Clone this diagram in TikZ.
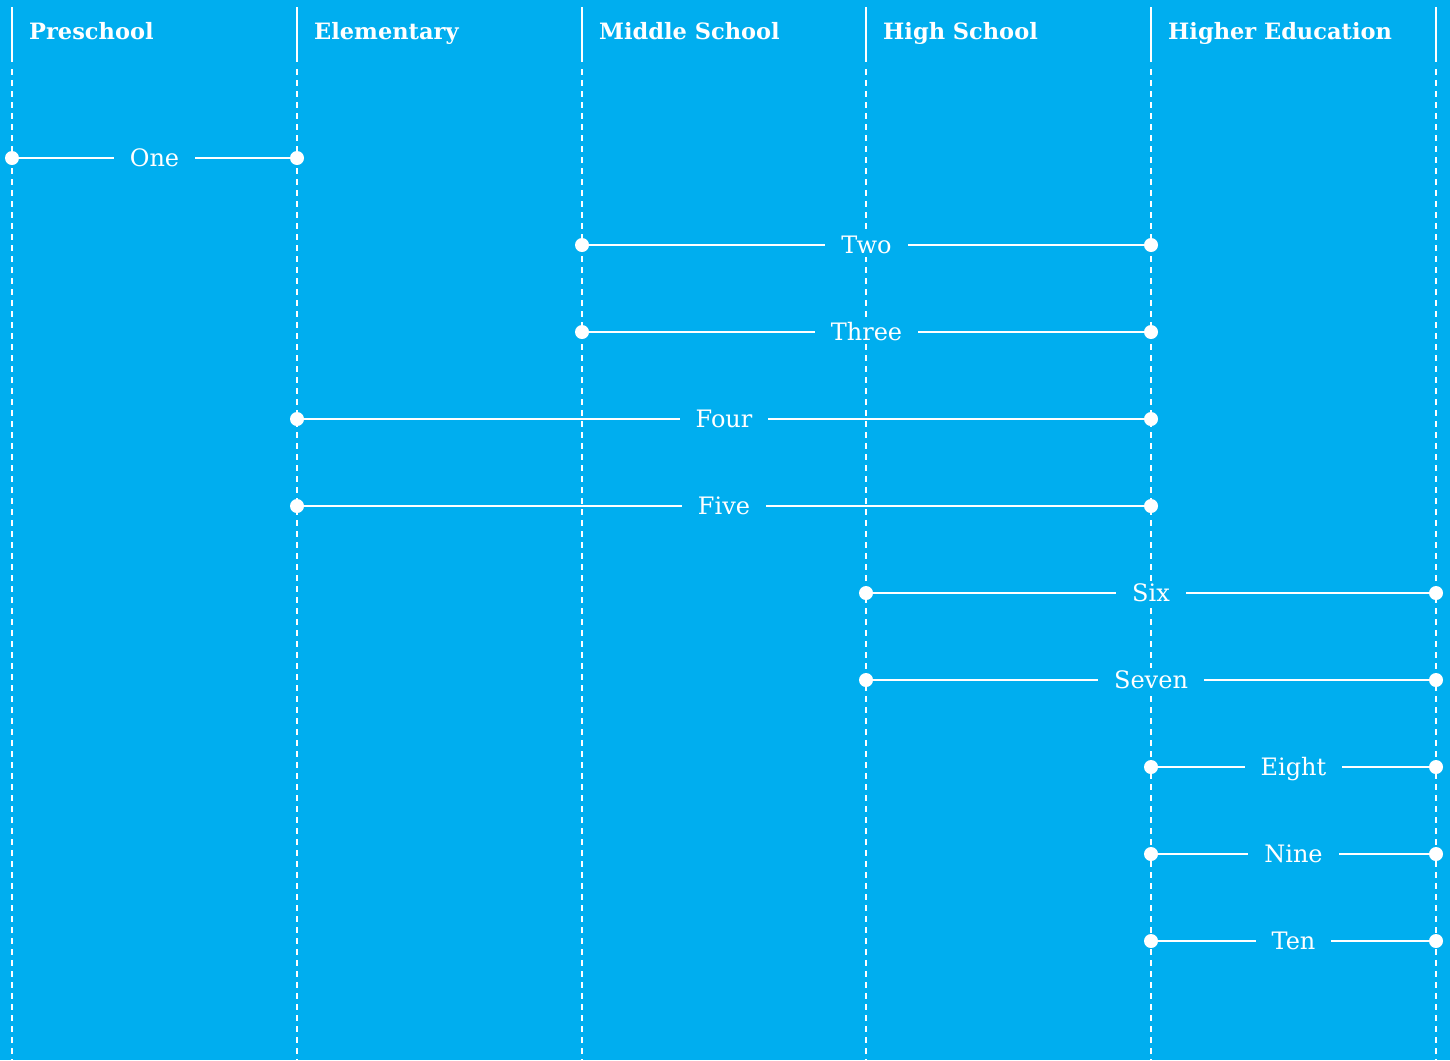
\documentclass[tikz,border=0pt]{standalone}
\usepackage{fontspec}
\setmainfont{DejaVu Serif}
\definecolor{stageblue}{RGB}{0,174,239}

\begin{document}
\begin{tikzpicture}[x=1pt, y=-1pt,
  stage/.style={font=\bfseries\fontsize{22.5}{26}\selectfont, text=white, anchor=base west, inner sep=0pt},
  divider/.style={white, line width=2pt},
  track/.style={white, line width=1.4pt, dash pattern=on 6pt off 5pt},
  dot/.style={circle, fill=white, inner sep=0pt, minimum size=14pt},
  link/.style={white, line width=1.5pt},
  tag/.style={fill=stageblue, text=white, font=\fontsize{24}{28}\selectfont,
              text height=18pt, text depth=2pt, inner xsep=16pt, inner ysep=2pt}]

% Background
\fill[stageblue] (0,0) rectangle (1450,1060);

% Column rules: solid at the top, dashed below
\foreach \x in {12,297,582,866,1151,1436} {
  \draw[divider] (\x,7) -- (\x,62);
  \draw[track] (\x,69) -- (\x,1060);
}

% Column headings
\foreach \name/\x/\txt in {pre/12/Preschool, ele/297/Elementary, mid/582/Middle School,
                           high/866/High School, uni/1151/Higher Education}
  \node[stage] (\name) at (\x+17,39) {\txt};

% Spans between columns, labelled in the middle
\foreach \y/\xa/\xb/\txt in {158/12/297/One, 245/582/1151/Two, 332/582/1151/Three,
                             419/297/1151/Four, 506/297/1151/Five, 593/866/1436/Six,
                             680/866/1436/Seven, 767/1151/1436/Eight, 854/1151/1436/Nine,
                             941/1151/1436/Ten} {
  \node[dot] (\txt start) at (\xa,\y) {};
  \node[dot] (\txt end) at (\xb,\y) {};
  \draw[link] (\txt start) -- (\txt end) node[midway, tag] (\txt label) {\txt};
}

\end{tikzpicture}
\end{document}
